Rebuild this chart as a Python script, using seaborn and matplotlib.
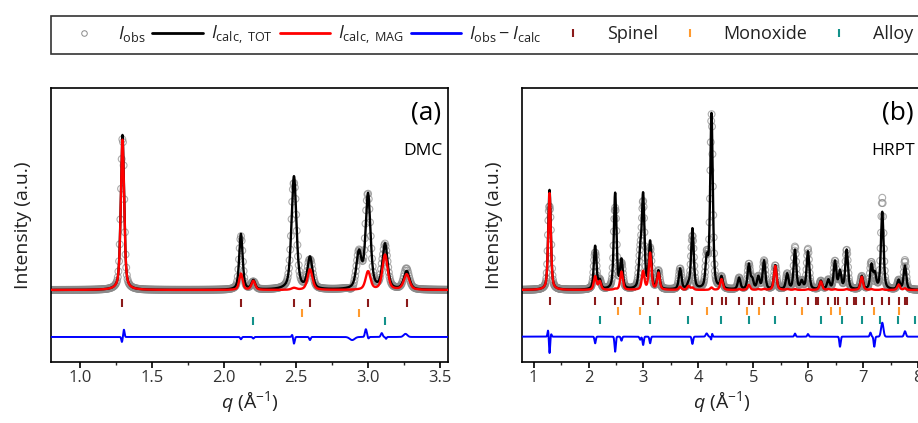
import numpy as np
import pandas as pd
import matplotlib
matplotlib.use("Agg")
import matplotlib.pyplot as plt
from matplotlib.lines import Line2D
import seaborn as sns

# ---------------- data ----------------
# Panel (a) DMC: peak positions (q, 1/A), total calc height, magnetic calc height, FWHM
A_POS = [1.296, 2.118, 2.204, 2.486, 2.597, 2.937, 3.000, 3.118, 3.268]
A_TOT = [100.0, 36.0, 5.8, 73.0, 20.4, 23.0, 61.0, 29.0, 11.8]
A_MAG = [97.0, 10.5, 5.8, 1.2, 13.3, 0.0, 11.8, 22.6, 10.0]
A_FWHM = [0.027, 0.028, 0.03, 0.040, 0.040, 0.042, 0.040, 0.042, 0.046]
# residual features (position, amplitude, width)
A_RES_POS = [1.292, 1.306, 2.118, 2.204, 2.474, 2.486, 2.597, 2.89, 2.985, 3.003, 3.095, 3.125, 3.26]
A_RES_AMP = [-3.2, 4.7, -1.5, -1.0, 1.5, -4.3, -2.0, -2.0, 5.0, -1.0, 2.5, -1.2, 2.0]
A_RES_W = [0.010, 0.010, 0.012, 0.012, 0.010, 0.012, 0.012, 0.04, 0.015, 0.01, 0.015, 0.01, 0.03]
A_SPINEL = [1.296, 2.118, 2.486, 2.597, 3.000, 3.269]
A_MONOX = [2.544, 2.940]
A_ALLOY = [2.204, 3.118]

# Panel (b) HRPT
B_POS = [1.291, 2.121, 2.205, 2.485, 2.600, 2.940, 2.994, 3.121, 3.273, 3.667, 3.820,
         3.891, 4.152, 4.238, 4.420, 4.740, 4.918, 4.980, 5.090, 5.194, 5.398, 5.615,
         5.757, 5.880, 5.993, 6.228, 6.364, 6.485, 6.576, 6.697, 6.972, 7.148, 7.210,
         7.345, 7.643, 7.758]
B_TOT = [64.5, 28.0, 5.4, 62.0, 18.3, 21.0, 59.0, 30.0, 11.8, 13.3, 2.5,
         39.0, 18.0, 113.0, 7.5, 7.5, 16.0, 6.0, 8.0, 18.5, 15.5, 10.0,
         25.5, 5.0, 24.5, 5.5, 6.0, 18.0, 11.5, 25.5, 8.5, 15.5, 9.5,
         50.0, 6.0, 15.5]
B_MAG = [62.5, 8.6, 5.4, 0.5, 11.8, 0.0, 11.8, 23.7, 10.8, 2.0, 2.5,
         1.5, 0.0, 1.5, 7.0, 0.5, 3.2, 0.0, 0.5, 0.5, 15.5, 0.5,
         0.5, 0.0, 0.5, 5.5, 0.5, 0.5, 0.0, 0.5, 8.5, 0.5, 0.0,
         0.5, 3.5, 1.0]
B_FWHM = 0.056
B_RES_POS = [1.265, 1.291, 1.32, 2.121, 2.485, 2.600, 2.94, 2.994, 3.121, 3.891, 4.15,
             4.232, 4.25, 5.757, 5.993, 6.576, 7.13, 7.20, 7.345, 7.758]
B_RES_AMP = [4.3, -10.8, 1.7, -4.3, -9.7, -2.6, -2.0, -5.4, -4.3, -4.7, 2.1,
             -2.0, 2.0, 2.0, 1.7, -6.5, 2.6, -6.5, 9.0, 3.5]
B_RES_W = [0.025, 0.025, 0.025, 0.028, 0.028, 0.028, 0.03, 0.028, 0.028, 0.03, 0.04,
           0.02, 0.02, 0.03, 0.03, 0.028, 0.03, 0.028, 0.05, 0.04]
B_SPINEL = [1.291, 2.121, 2.485, 2.600, 2.994, 3.273, 3.667, 3.891, 4.242, 4.424, 4.503,
            4.745, 4.921, 4.982, 5.194, 5.363, 5.618, 5.757, 5.988, 6.139, 6.182, 6.363,
            6.485, 6.533, 6.697, 6.830, 6.867, 7.018, 7.157, 7.345, 7.466, 7.642, 7.751, 7.788]
B_MONOX = [2.545, 2.939, 4.160, 4.875, 5.095, 5.879, 6.410, 6.576, 7.200, 7.642]
B_ALLOY = [2.212, 3.121, 3.818, 4.408, 4.927, 5.398, 6.230, 6.610, 6.975, 7.311, 7.636, 7.939]

DIFF_OFFSET = {"a": -30.3, "b": -30.1}
TICK_Y = {"a": (-8.4, -14.8, -20.0), "b": (-6.9, -13.4, -19.4)}

# ---------------- style ----------------
sns.set_style("white")
plt.rcParams["font.family"] = ["Open Sans", "DejaVu Sans"]
plt.rcParams["mathtext.fontset"] = "custom"
plt.rcParams["mathtext.rm"] = "Open Sans"
plt.rcParams["mathtext.it"] = "Open Sans:italic"
plt.rcParams["mathtext.bf"] = "Open Sans:bold"

C_SPINEL = "#8B1A1A"
C_MONOX = "#FF9A2E"
C_ALLOY = "#13918A"
ETA = 0.5


def pv(x, x0, h, w):
    d = (x - x0) / w
    return h * (ETA / (1 + 4 * d ** 2) + (1 - ETA) * np.exp(-4 * np.log(2) * d ** 2))


def pattern(x, pos, heights, widths):
    widths = np.broadcast_to(widths, (len(pos),))
    y = np.zeros_like(x)
    for p, h, w in zip(pos, heights, widths):
        y += pv(x, p, h, w)
    return y


def residual(x, pos, amp, wid):
    y = np.zeros_like(x)
    for p, a, w in zip(pos, amp, wid):
        y += a * np.exp(-4 * np.log(2) * ((x - p) / w) ** 2)
    return y


fig = plt.figure(figsize=(9.18, 4.23), dpi=100)
ax_a = fig.add_axes([51 / 918, 61 / 423, 397 / 918, 274 / 423])
ax_b = fig.add_axes([522 / 918, 61 / 423, 399 / 918, 274 / 423])

panels = [
    (ax_a, "a", A_POS, A_TOT, A_MAG, A_FWHM, A_RES_POS, A_RES_AMP, A_RES_W,
     A_SPINEL, A_MONOX, A_ALLOY, (0.8, 3.555), 0.0045, "(a)", "DMC"),
    (ax_b, "b", B_POS, B_TOT, B_MAG, B_FWHM, B_RES_POS, B_RES_AMP, B_RES_W,
     B_SPINEL, B_MONOX, B_ALLOY, (0.79, 8.05), 0.0075, "(b)", "HRPT"),
]

for (ax, key, pos, tot, mag, fwhm, rpos, ramp, rw, sp, mo, al, xlim, step,
     tag, inst) in panels:
    x = np.linspace(xlim[0], xlim[1], 6000)
    y_tot = pattern(x, pos, tot, fwhm)
    y_mag = pattern(x, pos, mag, fwhm)
    res = residual(x, rpos, ramp, rw)
    xo = np.arange(xlim[0], xlim[1], step)
    y_obs = pattern(xo, pos, tot, fwhm) + residual(xo, rpos, ramp, rw)

    d_obs = pd.DataFrame({"q": xo, "I": y_obs})
    sns.scatterplot(data=d_obs, x="q", y="I", ax=ax, marker="o", s=24,
                    facecolor="none", edgecolor="#8a8a8a", linewidth=0.8,
                    alpha=0.7, zorder=2)
    curves = pd.DataFrame({"q": x, "tot": y_tot, "mag": y_mag,
                           "diff": res + DIFF_OFFSET[key]})
    sns.lineplot(data=curves, x="q", y="tot", ax=ax, color="black", lw=1.7,
                 estimator=None, sort=False, zorder=3)
    sns.lineplot(data=curves, x="q", y="mag", ax=ax, color="#FF0000", lw=1.7,
                 estimator=None, sort=False, zorder=4)
    sns.lineplot(data=curves, x="q", y="diff", ax=ax, color="#0000FF", lw=1.4,
                 estimator=None, sort=False, zorder=4)

    ty = TICK_Y[key]
    for vals, c, yy in ((sp, C_SPINEL, ty[0]), (mo, C_MONOX, ty[1]), (al, C_ALLOY, ty[2])):
        ax.plot(vals, np.full(len(vals), yy), ls="none", marker="|", ms=6,
                mew=1.5, color=c, zorder=5)

    ax.set_xlim(*xlim)
    ax.set_ylim(-46.45, 130.3)
    ax.set_yticks([])
    ax.set_ylabel("Intensity (a.u.)", fontsize=14, labelpad=14, color="#222222")
    ax.set_xlabel("$q$ (Å$^{-1}$)", fontsize=14, labelpad=2, color="#222222")
    for s in ax.spines.values():
        s.set_color("black")
        s.set_linewidth(1.2)
    ax.text(0.982, 0.955, tag, transform=ax.transAxes, ha="right", va="top",
            fontsize=19, color="black")
    ax.text(0.985, 0.80, inst, transform=ax.transAxes, ha="right", va="top",
            fontsize=12.5, color="black")

ax_a.set_xticks([1.0, 1.5, 2.0, 2.5, 3.0, 3.5])
ax_a.set_xticks([1.25, 1.75, 2.25, 2.75, 3.25], minor=True)
ax_b.set_xticks([1, 2, 3, 4, 5, 6, 7, 8])
ax_b.set_xticks([1.5, 2.5, 3.5, 4.5, 5.5, 6.5, 7.5], minor=True)
for ax in (ax_a, ax_b):
    ax.tick_params(axis="x", which="major", direction="out", length=4, width=1.2,
                   labelsize=12, pad=2, colors="black", labelcolor="#333333",
                   bottom=True)
    ax.tick_params(axis="x", which="minor", direction="out", length=2.5, width=1.0,
                   bottom=True)
ax_a.xaxis.set_major_formatter(matplotlib.ticker.FormatStrFormatter("%.1f"))

handles = [
    Line2D([], [], ls="none", marker="o", ms=4, mfc="none", mec="#8a8a8a", mew=0.7),
    Line2D([], [], color="black", lw=2),
    Line2D([], [], color="#FF0000", lw=2),
    Line2D([], [], color="#0000FF", lw=2),
    Line2D([], [], ls="none", marker="|", ms=6, mew=1.5, color=C_SPINEL),
    Line2D([], [], ls="none", marker="|", ms=6, mew=1.5, color=C_MONOX),
    Line2D([], [], ls="none", marker="|", ms=6, mew=1.5, color=C_ALLOY),
]
labels = [r"$I_{\rm obs}$", r"$I_{\rm calc,\ TOT}$", r"$I_{\rm calc,\ MAG}$",
          r"$I_{\rm obs} - I_{\rm calc}$", "Spinel", "Monoxide", "Alloy"]
leg = fig.legend(handles, labels, loc="lower left",
                 bbox_to_anchor=(51 / 918, (423 - 54.5) / 423, 870 / 918, 0.0),
                 mode="expand", ncol=7, frameon=True, fancybox=False,
                 edgecolor="black", fontsize=13, handlelength=2.8,
                 handletextpad=0.45, columnspacing=0.8, borderaxespad=0,
                 borderpad=0.45)
leg.get_frame().set_linewidth(1.2)
for t in leg.get_texts():
    t.set_color("#222222")

fig.savefig("out.png", dpi=100)
